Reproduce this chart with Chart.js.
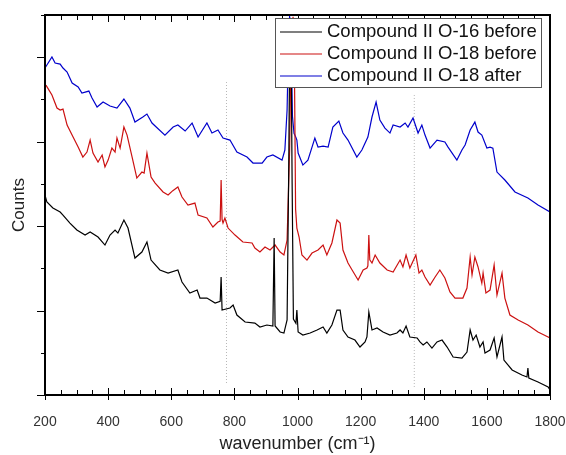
<!DOCTYPE html>
<html>
<head>
<meta charset="utf-8">
<script src="https://cdn.jsdelivr.net/npm/chart.js@4"></script>
<style>
  body { margin: 0; background: #fff; }
</style>
</head>
<body>
<canvas id="spectra" width="566" height="455"></canvas>
<script>
// Raman spectra, values (counts in arbitrary units)
const seriesLabels = ['Compound II O-16 before', 'Compound II O-18 before', 'Compound II O-18 after'];
const seriesColors = ['#000000', '#cc1111', '#0000cc'];

const o16BeforeX = [200,206,225,248,257,279,301,327,343,368,390,406,422,431,450,463,485,507,523,536,564,590,621,634,659,682,691,713,739,755,758,761,786,796,808,834,865,881,903,922,926,929,945,957,967,972,976,980,983,987,995,998,1002,1017,1040,1062,1081,1093,1109,1125,1135,1144,1160,1182,1198,1214,1220,1226,1236,1252,1271,1293,1315,1325,1334,1344,1356,1379,1388,1398,1410,1426,1442,1458,1474,1493,1521,1537,1547,1556,1566,1578,1588,1594,1610,1623,1632,1648,1654,1680,1711,1727,1730,1733,1762,1794,1800];
const o16BeforeY = [2368,2285,2214,2167,2131,2036,1954,1894,1930,1871,1776,1894,1954,1918,2072,1977,1622,1693,1812,1598,1480,1444,1480,1338,1208,1243,1148,1148,1089,1110,1397,1006,1030,1066,947,864,852,805,829,817,1859,817,746,734,888,2600,4440,4000,2500,900,850,1006,746,710,734,770,805,734,829,1006,1006,770,687,651,568,628,687,983,770,793,746,710,734,770,734,817,687,675,628,592,628,556,628,651,568,450,438,509,770,651,710,568,628,497,533,675,450,687,414,296,237,213,320,201,154,95,60];

const o18BeforeX = [203,222,238,248,257,270,289,305,320,333,343,352,368,381,390,400,412,422,428,438,450,460,476,491,507,514,523,536,549,574,590,605,621,634,653,675,685,713,732,748,755,758,761,764,770,780,802,827,856,865,881,897,913,929,945,957,967,975,980,986,990,994,998,1005,1014,1030,1046,1065,1081,1093,1109,1125,1135,1144,1160,1173,1192,1208,1220,1223,1226,1229,1236,1246,1261,1284,1303,1325,1334,1344,1356,1375,1385,1394,1404,1420,1436,1451,1467,1483,1499,1524,1537,1547,1553,1562,1572,1584,1588,1597,1610,1623,1632,1648,1657,1673,1699,1730,1762,1794,1800];
const o18BeforeY = [3670,3552,3398,3374,3386,3197,3055,2936,2818,2877,3019,2865,2759,2842,2700,2782,2924,2877,3043,2924,3173,3078,2818,2569,2640,2628,2865,2581,2510,2404,2368,2420,2463,2344,2250,2273,2131,2096,1989,2048,2060,2546,2080,2036,2096,1977,1894,1812,1800,1740,1693,1752,1717,1776,1693,1658,1835,2900,4200,4480,4000,2200,1977,1871,1658,1598,1681,1717,1776,1658,1800,2072,2036,1717,1563,1480,1362,1480,1504,1530,1894,1600,1563,1658,1563,1480,1456,1598,1516,1658,1504,1658,1444,1480,1397,1302,1397,1480,1385,1220,1148,1148,1267,1634,1421,1634,1516,1326,1444,1208,1243,1539,1184,1444,1148,947,888,829,746,687,675];

const o18AfterX = [200,222,232,248,257,270,286,305,317,339,349,365,384,406,428,450,469,485,510,523,539,580,606,621,644,666,685,713,729,748,764,786,808,840,859,888,903,922,951,960,967,971,975,979,984,989,995,998,1002,1017,1033,1055,1065,1081,1097,1112,1131,1144,1160,1188,1204,1223,1236,1249,1261,1277,1293,1303,1325,1341,1350,1366,1382,1394,1404,1420,1442,1467,1477,1505,1521,1531,1547,1562,1572,1584,1600,1610,1619,1632,1657,1689,1730,1762,1800];
const o18AfterY = [3872,4002,3931,3919,3872,3824,3694,3647,3576,3599,3517,3410,3469,3422,3398,3505,3398,3232,3292,3327,3221,3078,3173,3197,3126,3221,3055,3221,3102,3138,3043,3019,2877,2818,2747,2747,2818,2842,2782,2901,3374,4100,4480,4400,3300,3100,3050,3019,2865,2723,2782,3043,2936,2948,2936,3173,3244,3102,3019,2818,2901,3055,3292,3469,3256,3161,3102,3197,3173,3221,3173,3280,3102,3197,3078,2924,3019,2996,2936,2782,2901,2960,3138,3232,3114,3078,2924,2936,2924,2640,2546,2404,2332,2250,2167];

// dotted reference lines (wavenumber, from counts, to counts)
const markerX = [775, 1370];
const markerFrom = [142, 95];
const markerTo = [3706, 3576];

const xTicks = [200, 400, 600, 800, 1000, 1200, 1400, 1600, 1800];

const toPoints = (xs, ys) => xs.map((x, i) => ({ x: x, y: ys[i] }));

const spectra = [
  toPoints(o16BeforeX, o16BeforeY),
  toPoints(o18BeforeX, o18BeforeY),
  toPoints(o18AfterX, o18AfterY)
];

const datasets = spectra.map((pts, i) => ({
  label: seriesLabels[i],
  data: pts,
  borderColor: seriesColors[i],
  borderWidth: 1.2
}));

markerX.forEach((x, i) => {
  datasets.push({
    label: '',
    marker: true,
    data: [{ x: x, y: markerFrom[i] }, { x: x, y: markerTo[i] }],
    borderColor: '#b8b8b8',
    borderWidth: 1,
    borderDash: [1, 2]
  });
});

// frame, inward/outward ticks and the boxed legend
const axisFrame = {
  id: 'axisFrame',
  afterDraw(chart) {
    const { ctx, chartArea: a, scales: { x, y } } = chart;
    ctx.save();
    ctx.strokeStyle = '#000';
    ctx.lineWidth = 1;
    ctx.beginPath();
    for (let v = x.min; v <= x.max; v += 50) {
      const px = Math.round(x.getPixelForValue(v)) + 0.5;
      const major = v % 200 === 0;
      const len = major ? 7 : 5;
      ctx.moveTo(px, a.bottom + (major ? 5 : 0));
      ctx.lineTo(px, a.bottom - len);
      ctx.moveTo(px, a.top);
      ctx.lineTo(px, a.top + len);
    }
    for (let v = y.min; v <= y.max; v += 500) {
      const py = Math.round(y.getPixelForValue(v)) + 0.5;
      const major = v % 1000 === 0;
      ctx.moveTo(a.left - (major ? 8 : 4), py);
      ctx.lineTo(a.left, py);
    }
    ctx.stroke();
    ctx.lineWidth = 2;
    ctx.strokeRect(a.left, a.top, a.right - a.left, a.bottom - a.top);

    // legend box
    const bx = a.right - 275, by = a.top + 3, bw = 266, bh = 69;
    ctx.fillStyle = '#fff';
    ctx.fillRect(bx, by, bw, bh);
    ctx.lineWidth = 1;
    ctx.strokeStyle = '#555';
    ctx.strokeRect(bx + 0.5, by + 0.5, bw, bh);
    ctx.font = "18.5px 'Liberation Sans', Arial, sans-serif";
    ctx.textBaseline = 'middle';
    chart.data.datasets.filter(d => !d.marker).forEach((d, i) => {
      const ly = by + 14 + i * 22;
      ctx.strokeStyle = d.borderColor;
      ctx.lineWidth = 1.2;
      ctx.beginPath();
      ctx.moveTo(bx + 5, ly);
      ctx.lineTo(bx + 47, ly);
      ctx.stroke();
      ctx.fillStyle = '#111';
      ctx.fillText(d.label, bx + 52, ly);
    });
    ctx.restore();
  }
};

Chart.defaults.font.family = "'Liberation Sans', Arial, sans-serif";

new Chart(document.getElementById('spectra').getContext('2d'), {
  type: 'line',
  data: { datasets: datasets },
  options: {
    responsive: false,
    animation: false,
    layout: { padding: { top: 15, right: 16, left: 0, bottom: 0 } },
    elements: { point: { radius: 0 }, line: { tension: 0 } },
    plugins: { legend: { display: false }, tooltip: { enabled: false } },
    scales: {
      x: {
        type: 'linear',
        min: 200,
        max: 1800,
        afterBuildTicks: s => { s.ticks = xTicks.map(v => ({ value: v })); },
        ticks: { padding: 11, color: '#333', font: { size: 14 }, callback: v => String(v) },
        grid: { display: false },
        border: { display: false },
        title: { display: true, text: 'wavenumber (cm⁻¹)', color: '#222', font: { size: 18 }, padding: { top: 0, bottom: 0 } },
        afterFit: s => { s.height = 60; s.paddingLeft = 0; s.paddingRight = 0; }
      },
      y: {
        min: 0,
        max: 4500,
        ticks: { display: false },
        grid: { display: false },
        border: { display: false },
        title: { display: true, text: 'Counts', color: '#222', font: { size: 17 }, padding: { top: 9, bottom: 0 } },
        afterFit: s => { s.width = 45; }
      }
    }
  },
  plugins: [axisFrame]
});
</script>
</body>
</html>
